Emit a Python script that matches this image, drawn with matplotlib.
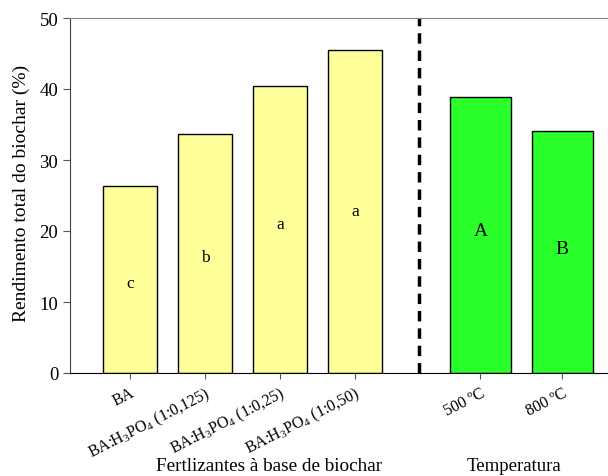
import matplotlib
matplotlib.use("Agg")
import matplotlib.pyplot as plt

plt.rcParams['font.family'] = ['Liberation Serif', 'DejaVu Serif']
plt.rcParams['mathtext.fontset'] = 'custom'
plt.rcParams['mathtext.rm'] = 'Liberation Serif'
plt.rcParams['mathtext.it'] = 'Liberation Serif:italic'

fert_labels = ["BA", r"BA:H$_3$PO$_4$ (1:0,125)", r"BA:H$_3$PO$_4$ (1:0,25)", r"BA:H$_3$PO$_4$ (1:0,50)"]
fert_values = [26.3, 33.7, 40.4, 45.5]
fert_letters = ["c", "b", "a", "a"]
fert_letter_y = [12.7, 16.3, 21.0, 22.8]

temp_labels = ["500 ºC", "800 ºC"]
temp_values = [38.9, 34.1]
temp_letters = ["A", "B"]
temp_letter_y = [20.0, 17.6]

fert_pos = [0, 1, 2, 3]
temp_pos = [4.67, 5.76]

fig = plt.figure(figsize=(6.08, 4.77), dpi=100)
ax = fig.add_axes([70/608, 1-374/477, 1-70/608, (374-19)/477])

ax.bar(fert_pos, fert_values, width=0.71, color="#FFFF99", edgecolor="black", linewidth=1.0)
ax.bar(temp_pos, temp_values, width=0.81, color="#2BFF2B", edgecolor="black", linewidth=1.0)

for x, y, t in zip(fert_pos, fert_letter_y, fert_letters):
    ax.text(x, y, t, ha="center", va="center", fontsize=12.5)
for x, y, t in zip(temp_pos, temp_letter_y, temp_letters):
    ax.text(x, y, t, ha="center", va="center", fontsize=14)

ax.axvline(3.85, color="black", linestyle=(0, (3, 2)), linewidth=2.5)

ax.set_xlim(-0.8, 6.37)
ax.set_ylim(0, 50)
ax.set_yticks([0, 10, 20, 30, 40, 50])
ax.tick_params(axis="y", labelsize=13.5, direction="out", length=5, color="#555555")
ax.set_xticks(fert_pos + temp_pos)
ax.set_xticklabels(fert_labels + temp_labels, rotation=27, ha="right", rotation_mode="anchor", fontsize=11.5)
ax.tick_params(axis="x", direction="out", length=4, color="#555555", pad=4)

ax.spines["right"].set_visible(False)
ax.spines["top"].set_color("#888888")
ax.spines["left"].set_color("#444444")
ax.spines["bottom"].set_color("black")

ax.set_ylabel("Rendimento total do biochar (%)", fontsize=14)
ax.yaxis.set_label_coords(-0.074, 0.5 + 3/355)
fig.text(269/608, 1-467/477, "Fertlizantes à base de biochar", ha="center", va="center", fontsize=13.8)
fig.text(514/608, 1-467/477, "Temperatura", ha="center", va="center", fontsize=13.5)

fig.savefig("out.png", dpi=100)
